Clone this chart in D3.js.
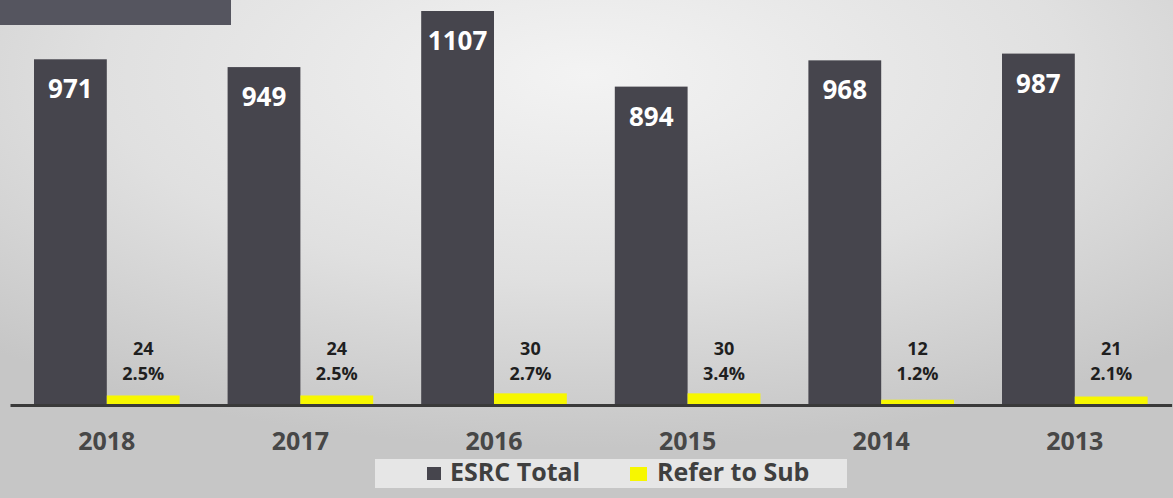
<!DOCTYPE html>
<html>
<head>
<meta charset="utf-8">
<script src="https://cdn.jsdelivr.net/npm/d3@7"></script>
<style>
    body { margin: 0; padding: 0; overflow: hidden; }
    svg { display: block; }
    text { font-family: "Open Sans", "DejaVu Sans", sans-serif; }
</style>
</head>
<body>
<div id="chart"></div>
<script>
// values
let years = ["2018", "2017", "2016", "2015", "2014", "2013"];
let esrcTotal = [971, 949, 1107, 894, 968, 987];
let referSub = [24, 24, 30, 30, 12, 21];
let referPct = ["2.5%", "2.5%", "2.7%", "3.4%", "1.2%", "2.1%"];
let seriesNames = ["ESRC Total", "Refer to Sub"];

let width = 1173, height = 498;
let baseY = 404;

let svg = d3.select("#chart").append("svg")
    .attr("width", width)
    .attr("height", height);

// background glow
let defs = svg.append("defs");
let grad = defs.append("radialGradient")
    .attr("id", "bg")
    .attr("cx", "50%").attr("cy", "15%")
    .attr("r", "75%");
grad.append("stop").attr("offset", "0%").attr("stop-color", "#f3f3f3");
grad.append("stop").attr("offset", "55%").attr("stop-color", "#e0e0e0");
grad.append("stop").attr("offset", "100%").attr("stop-color", "#c6c6c6");

svg.append("rect")
    .attr("width", width)
    .attr("height", height)
    .attr("fill", "url(#bg)");

// title box (cut off at the top)
svg.append("rect")
    .attr("x", 0).attr("y", 0)
    .attr("width", 231).attr("height", 25)
    .attr("fill", "#55555f");

// scales
let x = d3.scaleBand()
    .domain(years)
    .range([10, 1171.6]);

let xSub = d3.scaleBand()
    .domain(seriesNames)
    .range([24, x.bandwidth() - 24]);

let y = d3.scaleLinear()
    .domain([0, 1107])
    .range([baseY, 11]);

let data = years.map(function(d, i) {
    return {year: d, total: esrcTotal[i], sub: referSub[i], pct: referPct[i]};
});

let groups = svg.selectAll(".year")
    .data(data)
    .enter().append("g")
    .attr("class", "year")
    .attr("transform", function(d) { return "translate(" + x(d.year) + ",0)"; });

// dark bars
groups.append("rect")
    .attr("x", xSub("ESRC Total"))
    .attr("y", function(d) { return y(d.total); })
    .attr("width", xSub.bandwidth())
    .attr("height", function(d) { return baseY - y(d.total); })
    .attr("fill", "#46454d");

groups.append("text")
    .attr("x", xSub("ESRC Total") + xSub.bandwidth() / 2)
    .attr("y", function(d) { return y(d.total) + 39; })
    .attr("text-anchor", "middle")
    .style("font-size", "26px")
    .style("font-weight", "bold")
    .style("fill", "#ffffff")
    .text(function(d) { return d.total; });

// yellow bars
groups.append("rect")
    .attr("x", xSub("Refer to Sub"))
    .attr("y", function(d) { return y(d.sub); })
    .attr("width", xSub.bandwidth())
    .attr("height", function(d) { return baseY - y(d.sub); })
    .attr("fill", "#f7f700");

groups.append("text")
    .attr("x", xSub("Refer to Sub") + xSub.bandwidth() / 2)
    .attr("y", 355)
    .attr("text-anchor", "middle")
    .style("font-size", "18px")
    .style("font-weight", "bold")
    .style("fill", "#1f1f1f")
    .text(function(d) { return d.sub; });

groups.append("text")
    .attr("x", xSub("Refer to Sub") + xSub.bandwidth() / 2)
    .attr("y", 380)
    .attr("text-anchor", "middle")
    .style("font-size", "18px")
    .style("font-weight", "bold")
    .style("fill", "#1f1f1f")
    .text(function(d) { return d.pct; });

// x axis
let xAxis = d3.axisBottom(x)
    .tickSize(0)
    .tickSizeOuter(0);

let axisG = svg.append("g")
    .attr("class", "x-axis")
    .attr("transform", "translate(0," + (baseY + 1) + ")")
    .call(xAxis);

axisG.select(".domain")
    .attr("stroke", "#3a3a3a")
    .attr("stroke-width", 3);

axisG.selectAll("text")
    .attr("y", 45)
    .attr("dy", 0)
    .style("font-family", "'Open Sans', sans-serif")
    .style("font-size", "25px")
    .style("font-weight", "bold")
    .style("fill", "#474747");

// legend
let legend = svg.append("g").attr("class", "legend");

legend.append("rect")
    .attr("x", 375).attr("y", 459)
    .attr("width", 472).attr("height", 29)
    .attr("fill", "#e6e6e6");

legend.append("rect")
    .attr("x", 427).attr("y", 467)
    .attr("width", 14).attr("height", 13)
    .attr("fill", "#46454d");
legend.append("text")
    .attr("x", 450).attr("y", 481)
    .style("font-size", "25px").style("font-weight", "bold").style("fill", "#3f3f3f")
    .text(seriesNames[0]);

legend.append("rect")
    .attr("x", 630).attr("y", 467)
    .attr("width", 17).attr("height", 14)
    .attr("fill", "#f7f700");
legend.append("text")
    .attr("x", 657).attr("y", 481)
    .style("font-size", "25px").style("font-weight", "bold").style("fill", "#3f3f3f")
    .text(seriesNames[1]);
</script>
</body>
</html>
